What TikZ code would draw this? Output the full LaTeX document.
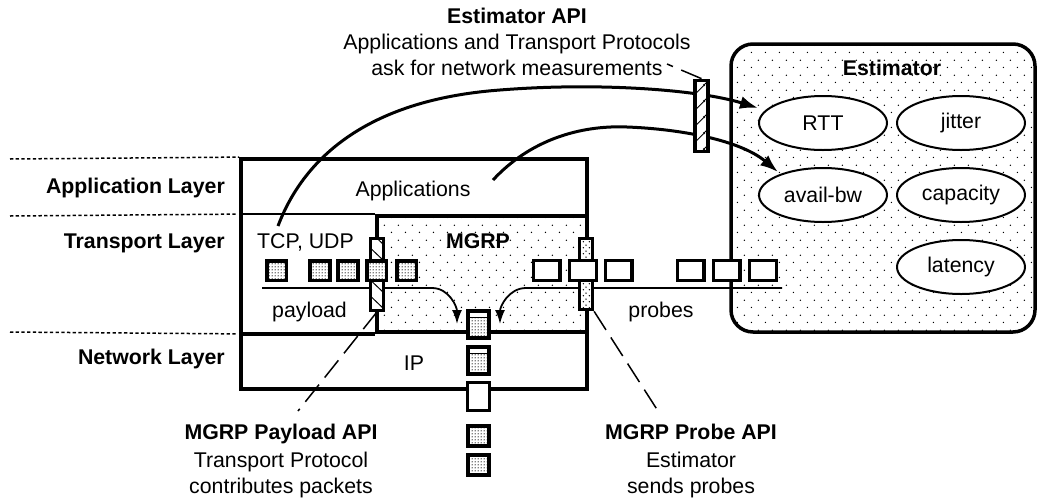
\documentclass[tikz,border=0pt]{standalone}
\usepackage{fontspec}
\setmainfont{Liberation Sans}
\usetikzlibrary{patterns.meta,arrows.meta,shapes.geometric}
\newcommand\lblfont{\fontsize{21.3pt}{25pt}\selectfont}

\tikzdeclarepattern{
  name=sparsedots,
  bounding box={(0pt,0pt) and (14.4pt,14.6pt)},
  tile size={(14.4pt,14.6pt)},
  code={\fill (3.6pt,3.65pt) circle (0.75pt);
        \fill (10.8pt,10.95pt) circle (0.75pt);}
}
\tikzdeclarepattern{
  name=densedots,
  bounding box={(0pt,0pt) and (2.6pt,2.6pt)},
  tile size={(2.6pt,2.6pt)},
  code={\fill (1.3pt,1.3pt) circle (0.72pt);}
}
\tikzdeclarepattern{
  name=meddots,
  bounding box={(0pt,0pt) and (6pt,6pt)},
  tile size={(6pt,6pt)},
  code={\fill (1.5pt,1.5pt) circle (0.85pt);
        \fill (4.5pt,4.5pt) circle (0.85pt);}
}
\tikzdeclarepattern{
  name=hatchNE,
  bounding box={(0pt,0pt) and (16pt,16pt)},
  tile size={(16pt,16pt)},
  code={\draw[line width=1pt] (-1pt,-1pt) -- (17pt,17pt);
        \draw[line width=1pt] (-1pt,15pt) -- (1pt,17pt);
        \draw[line width=1pt] (15pt,-1pt) -- (17pt,1pt);}
}
\tikzdeclarepattern{
  name=hatchNW,
  bounding box={(0pt,0pt) and (16pt,16pt)},
  tile size={(16pt,16pt)},
  code={\draw[line width=1pt] (-1pt,17pt) -- (17pt,-1pt);
        \draw[line width=1pt] (-1pt,1pt) -- (1pt,-1pt);
        \draw[line width=1pt] (15pt,17pt) -- (17pt,15pt);}
}

\tikzset{
  lbl/.style={inner sep=0pt, font=\lblfont},
  blbl/.style={inner sep=0pt, font=\lblfont\bfseries},
  sep/.style={line width=1.5pt, dash pattern=on 3.3pt off 2.4pt},
  meas/.style={ellipse, draw, line width=2pt, fill=white, minimum width=128pt,
               minimum height=54pt, inner sep=0pt, font=\lblfont},
  pkt/.style={draw, line width=3.6pt, preaction={fill=white}, pattern=densedots,
              minimum width=19.6pt, minimum height=19.6pt, inner sep=0pt},
  probe/.style={draw, line width=3.4pt, fill=white,
              minimum width=26.6pt, minimum height=19.6pt, inner sep=0pt},
  apibar/.style={draw, line width=3.2pt, preaction={fill=white},
              minimum width=13pt, minimum height=71.5pt, inner sep=0pt},
  bigarrow/.style={line width=3pt, -{Latex[length=18pt,width=13pt]}},
  smallarrow/.style={line width=1.8pt, -{Latex[length=14pt,width=10pt]}},
  leader/.style={line width=1.5pt, dash pattern=on 22pt off 9pt},
}

\begin{document}
\begin{tikzpicture}[x=1pt,y=-1pt]
\useasboundingbox (0,0) rectangle (1039,501);

% Estimator
\node[draw, line width=3.5pt, rounded corners=22pt, minimum width=304pt,
      minimum height=288pt, inner sep=0pt, pattern=sparsedots] (est) at (883,188) {};
\node[blbl, anchor=base] (esttitle) at (892,75) {Estimator};
\node[meas] (rtt) at (823,123) {RTT};
\node[meas] (jit) at (961,123) {jitter};
\node[meas] (abw) at (823,195) {avail-bw};
\node[meas] (cap) at (961,195) {capacity};
\node[meas] (lat) at (961,267) {latency};

% protocol stack
\node[draw, line width=3.8pt, pattern=sparsedots, minimum width=210pt,
      minimum height=116pt, inner sep=0pt] (mgrp) at (482,274) {};
\node[draw, line width=3.8pt, minimum width=346pt, minimum height=230pt,
      inner sep=0pt] (main) at (414,274) {};
\draw[line width=1.8pt] (main.west |- mgrp.north) -- (mgrp.north west);
\draw[line width=3.8pt] (main.west |- mgrp.south) -- (mgrp.south west);

% layer separators
\coordinate (s0) at (10,159);
\coordinate (s1) at (10,216);
\coordinate (s2) at (10,332);
\draw[sep] (s0) -- (main.north west);
\draw[sep] (s1) -- ([xshift=-2pt]main.west |- mgrp.north);
\draw[sep] (s2) -- ([xshift=-2pt]main.west |- mgrp.south);

% layer labels
\node[blbl, anchor=base east] (lapp) at (225,193) {Application Layer};
\node[blbl, anchor=base east] (ltra) at (225,248) {Transport Layer};
\node[blbl, anchor=base east] (lnet) at (225,364) {Network Layer};

% texts in the stack
\node[lbl, anchor=base] (apps) at (413,196) {Applications};
\node[lbl, anchor=base] (tcp) at (305.5,248) {TCP, UDP};
\node[blbl, anchor=base] (mgrpt) at (478,248) {MGRP};
\node[lbl, anchor=base] (payl) at (309.5,317) {payload};
\node[lbl, anchor=base] (ip) at (414,370) {IP};
\node[lbl, anchor=base] (prbs) at (661,317) {probes};

% payload / probe lines into MGRP
\coordinate (pl0) at (262,288);
\coordinate (pl1) at (432,288);
\coordinate (pltip) at (457,324);
\coordinate (pr0) at (782,288);
\coordinate (pr1) at (526,288);
\coordinate (prtip) at (500,324);
\draw[smallarrow] (pl0) -- (pl1) to[out=0,in=90] (pltip);
\draw[smallarrow] (pr0) -- (pr1) to[out=180,in=90] (prtip);

% Estimator API curves
\coordinate (tcpout) at (278,226);
\coordinate (appout) at (493,180);
\coordinate (rttin) at (758,108);
\coordinate (abwin) at (778,172);
\draw[bigarrow] (tcpout) .. controls (303,160) and (365,100) .. (500,90)
                 .. controls (600,82) and (700,90) .. (rttin);
\draw[bigarrow] (appout) .. controls (530,140) and (580,125) .. (627,127)
                 .. controls (680,129) and (740,140) .. (abwin);

% API bars
\node[apibar, pattern=hatchNE] (estapi) at (701.5,116) {};
\node[apibar, pattern=hatchNW] (payapi) at (377,274.5) {};
\node[apibar, pattern=meddots] (prbapi) at (586,274) {};

% payload packets
\node[pkt] (p1) at (276.5,270.5) {};
\node[pkt] (p2) at (320,270.5) {};
\node[pkt] (p3) at (348,270.5) {};
\node[pkt] (p4) at (376.5,270.5) {};
\node[pkt] (p5) at (406.5,270.5) {};

% probe packets
\node[probe] (q1) at (546.5,270.5) {};
\node[probe] (q2) at (583,270.5) {};
\node[probe] (q3) at (618.5,270.5) {};
\node[probe] (q4) at (690.5,270.5) {};
\node[probe] (q5) at (726.5,270.5) {};
\node[probe] (q6) at (763,270.5) {};

% outgoing packets
\node[pkt, minimum width=21.4pt, minimum height=27.4pt] (m1) at (478.5,324.5) {};
\node[pkt, minimum width=21.4pt, minimum height=27.4pt] (m2) at (478.5,360.5) {};
\node[probe, minimum width=21.6pt, minimum height=27.6pt] (m3) at (478.5,396.5) {};
\node[pkt, minimum width=21.4pt, minimum height=20.4pt] (m4) at (478.5,436) {};
\node[pkt, minimum width=21.4pt, minimum height=20.4pt] (m5) at (478.5,465) {};
\fill[white] (469.6,312.6) rectangle (487.4,316.6);
\draw[line width=1.2pt] (469.6,317.2) -- (487.4,317.2);
\fill[white] (469.6,348.6) rectangle (487.4,352.6);
\draw[line width=1.2pt] (469.6,353.2) -- (487.4,353.2);

% leaders
\coordinate (estlab) at (667,64);
\coordinate (paylab) at (298,411);
\coordinate (prblab) at (658,411);
\draw[leader] (estapi.north) -- (estlab);
\draw[leader] (payapi.south) -- (paylab);
\draw[leader] (prbapi.south east) -- (prblab);

% API labels
\node[blbl, anchor=base] (estapi1) at (517,23) {Estimator API};
\node[lbl, anchor=base] (estapi2) at (517,49) {Applications and Transport Protocols};
\node[lbl, anchor=base] (estapi3) at (517,75) {ask for network measurements};

\node[blbl, anchor=base] (payapi1) at (281,439) {MGRP Payload API};
\node[lbl, anchor=base] (payapi2) at (281,467) {Transport Protocol};
\node[lbl, anchor=base] (payapi3) at (281,493) {contributes packets};

\node[blbl, anchor=base] (prbapi1) at (691,439) {MGRP Probe API};
\node[lbl, anchor=base] (prbapi2) at (691,467) {Estimator};
\node[lbl, anchor=base] (prbapi3) at (691,493) {sends probes};
\end{tikzpicture}
\end{document}
